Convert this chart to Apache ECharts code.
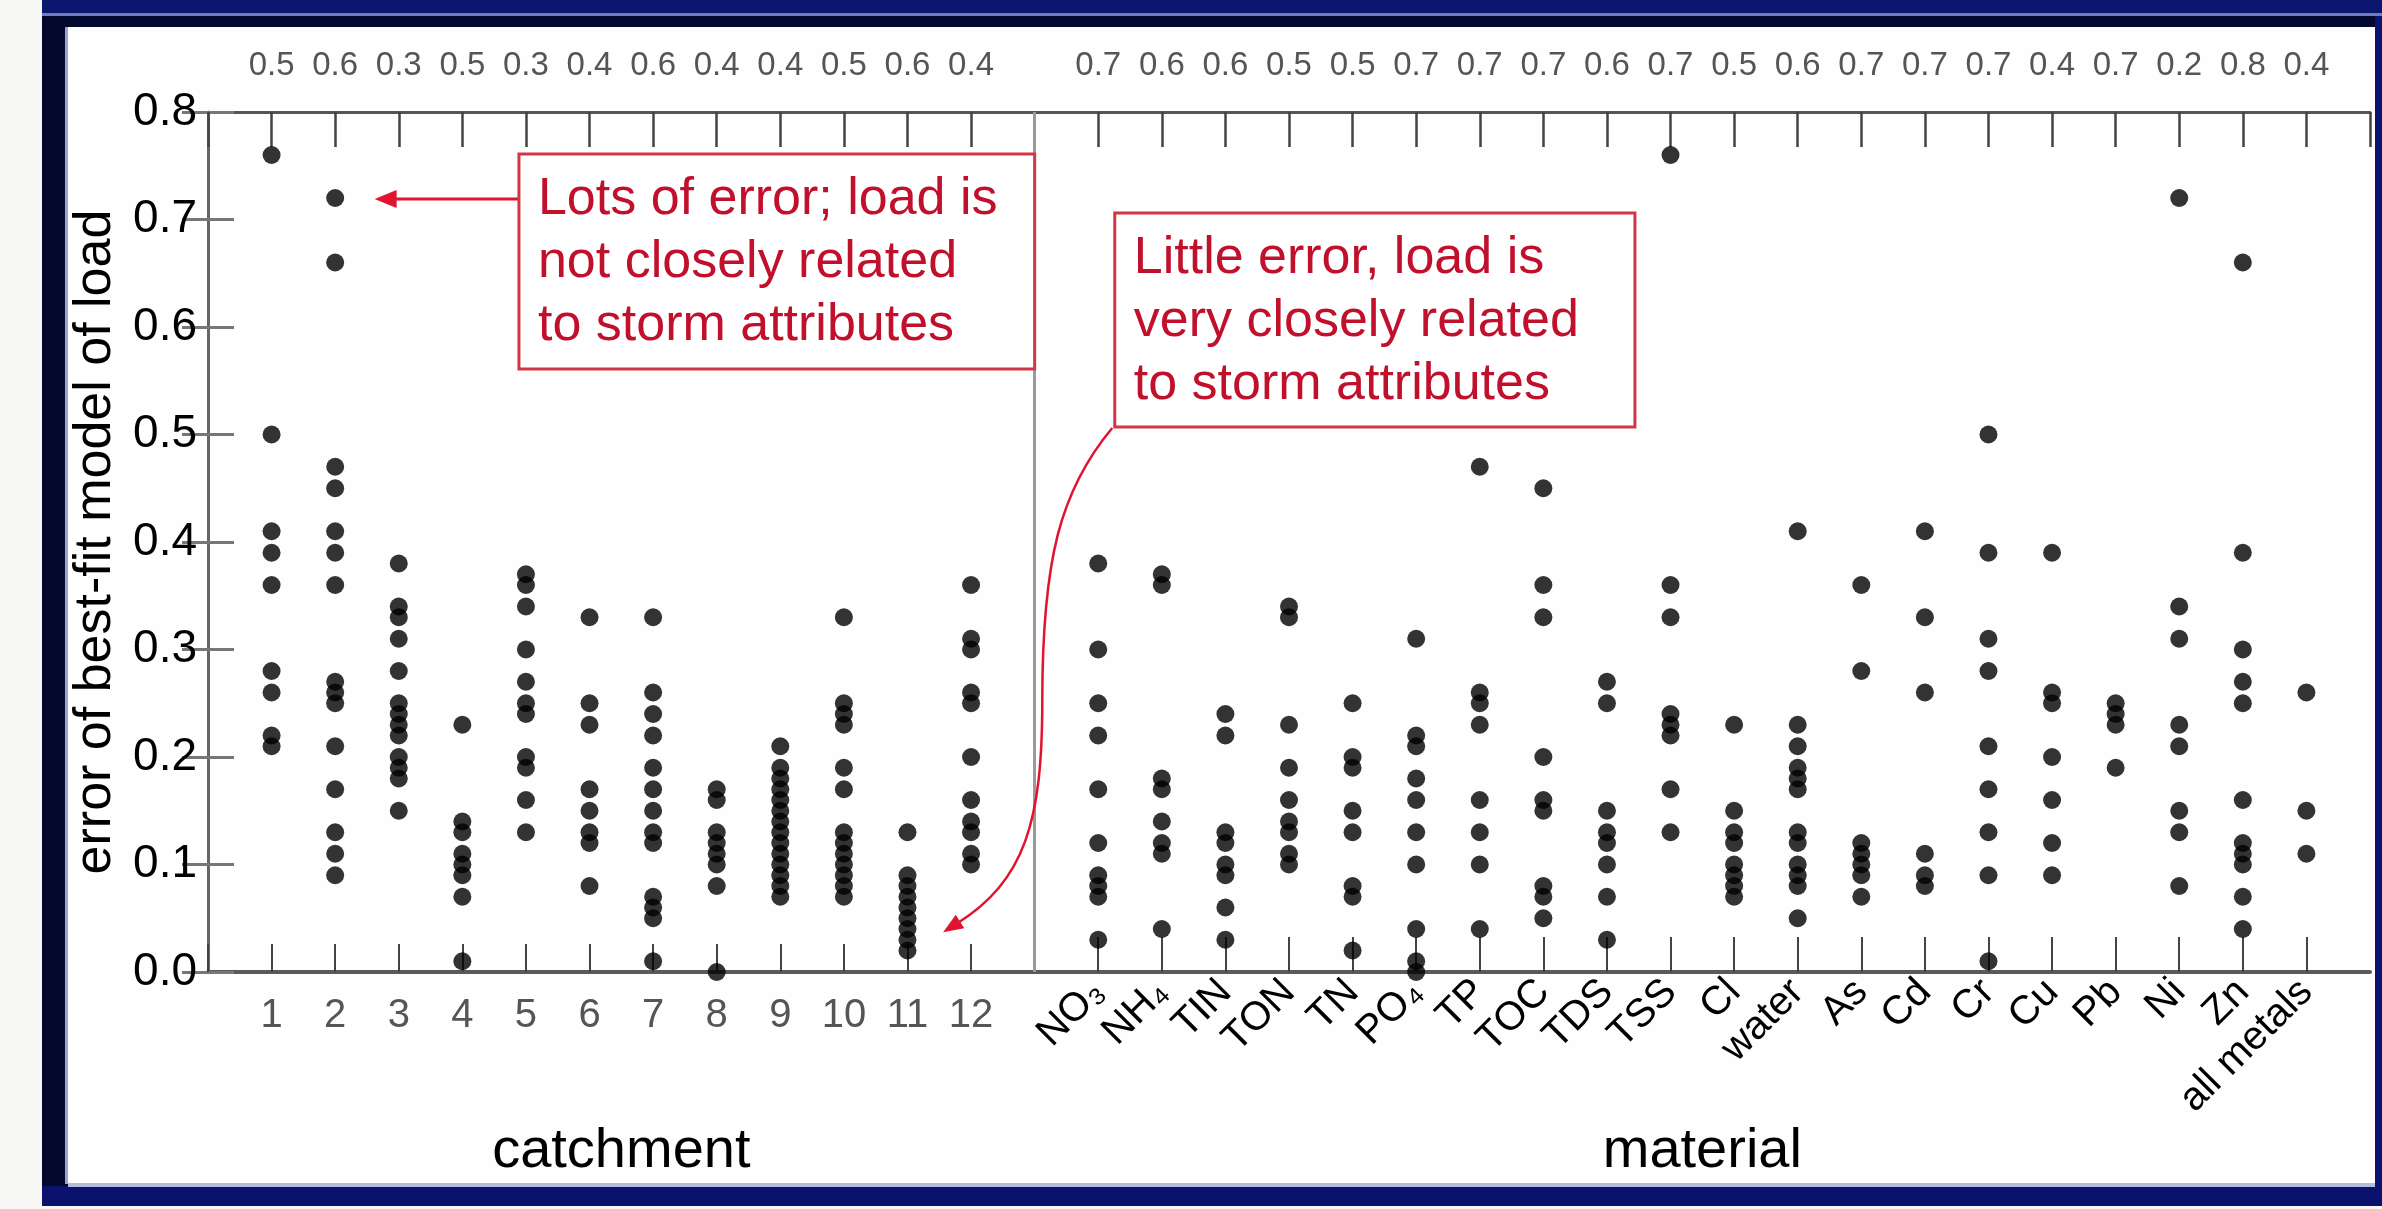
<!DOCTYPE html>
<html>
<head>
<meta charset="utf-8">
<script src="https://cdn.jsdelivr.net/npm/echarts@6/dist/echarts.min.js"></script>
<style>
  html, body { margin: 0; padding: 0; width: 2382px; height: 1209px; overflow: hidden; background: #f7f7f5; }
  .f { position: absolute; }
  #chart { position: absolute; left: 0; top: 0; width: 2382px; height: 1209px; }
</style>
</head>
<body>
<div class="f" style="left:42px;top:0;width:2340px;height:1206px;background:#03082e;"></div>
<div class="f" style="left:42px;top:0;width:2340px;height:13px;background:#0c1670;"></div>
<div class="f" style="left:42px;top:13px;width:2340px;height:3px;background:#6f7cbf;"></div>
<div class="f" style="left:42px;top:1186px;width:2340px;height:20px;background:#0a126e;"></div>
<div class="f" style="left:2375px;top:16px;width:7px;height:1190px;background:#0a126e;"></div>
<div class="f" style="left:65px;top:27px;width:3px;height:1157px;background:#9aa4cc;"></div>
<div class="f" style="left:68px;top:1183px;width:2307px;height:4px;background:#b4bcdc;"></div>
<div class="f" style="left:68px;top:27px;width:2307px;height:1156px;background:#fefefe;"></div>
<div id="chart"></div>
<script>
// ---------------- data ----------------
const catchments = ['1','2','3','4','5','6','7','8','9','10','11','12'];
const materials = ['NO\u2083','NH\u2084','TIN','TON','TN','PO\u2084','TP','TOC','TDS','TSS','Cl','water','As','Cd','Cr','Cu','Pb','Ni','Zn','all metals'];
const catchmentRates = [0.5,0.6,0.3,0.5,0.3,0.4,0.6,0.4,0.4,0.5,0.6,0.4];
const materialRates = [0.7,0.6,0.6,0.5,0.5,0.7,0.7,0.7,0.6,0.7,0.5,0.6,0.7,0.7,0.7,0.4,0.7,0.2,0.8,0.4];

const c1  = [0.76,0.50,0.41,0.39,0.36,0.28,0.26,0.22,0.21];
const c2  = [0.72,0.66,0.47,0.45,0.41,0.39,0.36,0.27,0.26,0.25,0.21,0.17,0.13,0.11,0.09];
const c3  = [0.38,0.34,0.33,0.31,0.28,0.25,0.24,0.23,0.22,0.20,0.19,0.18,0.15];
const c4  = [0.23,0.14,0.13,0.11,0.10,0.09,0.07,0.01];
const c5  = [0.37,0.36,0.34,0.30,0.27,0.25,0.24,0.20,0.19,0.16,0.13];
const c6  = [0.33,0.25,0.23,0.17,0.15,0.13,0.12,0.08];
const c7  = [0.33,0.26,0.24,0.22,0.19,0.17,0.15,0.13,0.12,0.07,0.06,0.05,0.01];
const c8  = [0.17,0.16,0.13,0.12,0.11,0.10,0.08,0.00];
const c9  = [0.21,0.19,0.18,0.17,0.16,0.15,0.14,0.13,0.12,0.11,0.10,0.09,0.08,0.07];
const c10 = [0.33,0.25,0.24,0.23,0.19,0.17,0.13,0.12,0.11,0.10,0.09,0.08,0.07];
const c11 = [0.13,0.09,0.08,0.07,0.06,0.05,0.04,0.03,0.02];
const c12 = [0.36,0.31,0.30,0.26,0.25,0.20,0.16,0.14,0.13,0.11,0.10];
const catchmentErrors = [c1,c2,c3,c4,c5,c6,c7,c8,c9,c10,c11,c12];

const mNO3   = [0.38,0.30,0.25,0.22,0.17,0.12,0.09,0.08,0.07,0.03];
const mNH4   = [0.37,0.36,0.18,0.17,0.14,0.12,0.11,0.04];
const mTIN   = [0.24,0.22,0.13,0.12,0.10,0.09,0.06,0.03];
const mTON   = [0.34,0.33,0.23,0.19,0.16,0.14,0.13,0.11,0.10];
const mTN    = [0.25,0.20,0.19,0.15,0.13,0.08,0.07,0.02];
const mPO4   = [0.31,0.22,0.21,0.18,0.16,0.13,0.10,0.04,0.01,0.00];
const mTP    = [0.47,0.26,0.25,0.23,0.16,0.13,0.10,0.04];
const mTOC   = [0.45,0.36,0.33,0.20,0.16,0.15,0.08,0.07,0.05];
const mTDS   = [0.27,0.25,0.15,0.13,0.12,0.10,0.07,0.03];
const mTSS   = [0.76,0.36,0.33,0.24,0.23,0.22,0.17,0.13];
const mCl    = [0.23,0.15,0.13,0.12,0.10,0.09,0.08,0.07];
const mWater = [0.41,0.23,0.21,0.19,0.18,0.17,0.13,0.12,0.10,0.09,0.08,0.05];
const mAs    = [0.36,0.28,0.12,0.11,0.10,0.09,0.07];
const mCd    = [0.41,0.33,0.26,0.11,0.09,0.08];
const mCr    = [0.50,0.39,0.31,0.28,0.21,0.17,0.13,0.09,0.01];
const mCu    = [0.39,0.26,0.25,0.20,0.16,0.12,0.09];
const mPb    = [0.25,0.24,0.23,0.19];
const mNi    = [0.72,0.34,0.31,0.23,0.21,0.15,0.13,0.08];
const mZn    = [0.66,0.39,0.30,0.27,0.25,0.16,0.12,0.11,0.10,0.07,0.04];
const mAll   = [0.26,0.15,0.11];
const materialErrors = [mNO3,mNH4,mTIN,mTON,mTN,mPO4,mTP,mTOC,mTDS,mTSS,mCl,mWater,mAs,mCd,mCr,mCu,mPb,mNi,mZn,mAll];

const annotations = [
  { lines: ['Lots of error; load is', 'not closely related', 'to storm attributes'] },
  { lines: ['Little error, load is', 'very closely related', 'to storm attributes'] }
];

// ---------------- layout helpers ----------------
const nC = catchments.length;           // 12
const sep = nC + 1;                     // 13 (separator slot)
const mStart = sep + 1;                 // 14
const xMax = mStart + materials.length; // 34
const FONT = '"Liberation Sans", Arial, Helvetica, sans-serif';

const range = (a, b) => Array.from({ length: b - a + 1 }, (_, i) => a + i);

const catchPts = [];
catchmentErrors.forEach((arr, i) => arr.forEach(v => catchPts.push([i + 1, v])));
const matPts = [];
materialErrors.forEach((arr, i) => arr.forEach(v => matPts.push([mStart + i, v])));

const chart = echarts.init(document.getElementById('chart'), null, { renderer: 'canvas' });

const baseX = { type: 'value', min: 0, max: xMax, interval: 1, splitLine: { show: false } };

chart.setOption({
  animation: false,
  backgroundColor: 'transparent',
  grid: { left: 208, right: 12, top: 112, bottom: 237, containLabel: false },
  xAxis: [
    Object.assign({}, baseX, {
      position: 'bottom',
      axisLine: { show: true, lineStyle: { color: '#5a5a5a', width: 4 } },
      axisTick: { show: true, inside: true, length: 28, customValues: range(0, sep), lineStyle: { color: '#444', width: 2 } },
      axisLabel: {
        margin: 24, fontSize: 40, color: '#555', fontFamily: FONT,
        formatter: v => (v >= 1 && v <= nC) ? catchments[v - 1] : ''
      }
    }),
    Object.assign({}, baseX, {
      position: 'bottom',
      axisLine: { show: false },
      axisTick: { show: true, inside: true, length: 35, customValues: range(mStart, xMax - 1), lineStyle: { color: '#444', width: 2 } },
      axisLabel: {
        margin: 14, rotate: 45, fontSize: 40, color: '#000', fontFamily: FONT,
        formatter: v => (v >= mStart && v < xMax) ? materials[v - mStart] : ''
      }
    }),
    Object.assign({}, baseX, {
      position: 'top',
      axisLine: { show: true, lineStyle: { color: '#555', width: 3 } },
      axisTick: { show: true, inside: true, length: 35, lineStyle: { color: '#444', width: 2.5 } },
      axisLabel: {
        margin: 30, fontSize: 33, color: '#555', fontFamily: FONT,
        formatter: v => {
          if (v >= 1 && v <= nC) return catchmentRates[v - 1].toFixed(1);
          if (v >= mStart && v < xMax) return materialRates[v - mStart].toFixed(1);
          return '';
        }
      }
    })
  ],
  yAxis: [
    {
      type: 'value', min: 0, max: 0.8, interval: 0.1, position: 'left',
      splitLine: { show: false },
      axisLine: { show: true, lineStyle: { color: '#555', width: 2 } },
      axisTick: { show: true, inside: true, length: 26, lineStyle: { color: '#777', width: 3 } },
      axisLabel: { margin: 11, fontSize: 46, color: '#000', fontFamily: FONT, formatter: v => v.toFixed(1) },
      name: 'error of best-fit model of load', nameLocation: 'middle', nameGap: 84,
      nameTextStyle: { fontSize: 52, color: '#000', fontFamily: FONT }
    },
    {
      type: 'value', min: 0, max: 0.8, interval: 0.1, position: 'right',
      splitLine: { show: false },
      axisLine: { show: true, lineStyle: { color: '#666', width: 3 } },
      axisTick: { show: true, inside: true, length: 26, lineStyle: { color: '#777', width: 3 } },
      axisLabel: { show: false }
    }
  ],
  series: [
    {
      type: 'scatter', name: 'catchment', xAxisIndex: 0, yAxisIndex: 0,
      data: catchPts, symbol: 'circle', symbolSize: 18, itemStyle: { color: '#000' },
      clip: false,
      markLine: {
        silent: true, symbol: 'none', label: { show: false },
        lineStyle: { color: '#9a9a9a', width: 3, type: 'solid' },
        data: [{ xAxis: sep }]
      }
    },
    {
      type: 'scatter', name: 'material', xAxisIndex: 0, yAxisIndex: 0,
      data: matPts, symbol: 'circle', symbolSize: 18, itemStyle: { color: '#000' },
      clip: false
    }
  ]
});

// ---------------- annotations (placed from data coordinates) ----------------
const P = p => chart.convertToPixel({ seriesIndex: 0 }, p);
const RED = '#e0142e';
const TXT = '#c0102c';
const BOX = '#d23646';

function arrowHead(tip, from, len, half) {
  const dx = tip[0] - from[0], dy = tip[1] - from[1];
  const d = Math.hypot(dx, dy), ux = dx / d, uy = dy / d;
  const bx = tip[0] - ux * len, by = tip[1] - uy * len;
  return [tip, [bx - uy * half, by + ux * half], [bx + uy * half, by - ux * half]];
}

const boxes = [
  { tl: P([4.89, 0.761]), br: P([13.0, 0.561]) },
  { tl: P([14.26, 0.706]), br: P([22.44, 0.507]) }
];
const graphics = [];
boxes.forEach((b, i) => {
  graphics.push({
    type: 'rect', z: 50,
    shape: { x: b.tl[0], y: b.tl[1], width: b.br[0] - b.tl[0], height: b.br[1] - b.tl[1] },
    style: { fill: '#fff', stroke: BOX, lineWidth: 3 }
  });
  graphics.push({
    type: 'text', z: 51,
    style: {
      x: b.tl[0] + 19, y: b.tl[1] + 14, text: annotations[i].lines.join('\n'),
      fill: TXT, fontSize: 52, fontFamily: FONT, lineHeight: 63,
      align: 'left', verticalAlign: 'top'
    }
  });
});

// straight arrow (box 1 -> high-error point)
const a1s = P([4.89, 0.719]), a1t = P([2.62, 0.719]);
const a1h = arrowHead(a1t, a1s, 22, 9);
graphics.push({ type: 'line', z: 49, shape: { x1: a1s[0], y1: a1s[1], x2: a1t[0] + 18, y2: a1t[1] }, style: { stroke: RED, lineWidth: 3 } });
graphics.push({ type: 'polygon', z: 49, shape: { points: a1h }, style: { fill: RED } });

// curved arrow (box 2 -> low-error points)
const q0 = P([14.22, 0.506]), q1 = P([13.40, 0.448]), q2 = P([13.12, 0.383]), q3 = P([13.12, 0.252]);
const q4 = P([13.12, 0.140]), q5 = P([12.85, 0.085]), q6 = P([11.56, 0.037]);
graphics.push({ type: 'bezierCurve', z: 49, shape: { x1: q0[0], y1: q0[1], cpx1: q1[0], cpy1: q1[1], cpx2: q2[0], cpy2: q2[1], x2: q3[0], y2: q3[1] }, style: { stroke: RED, lineWidth: 2.5, fill: null } });
const head2 = arrowHead(q6, q5, 20, 8);
const d2x = q6[0] - q5[0], d2y = q6[1] - q5[1], d2 = Math.hypot(d2x, d2y);
const q6b = [q6[0] - d2x / d2 * 16, q6[1] - d2y / d2 * 16];
graphics.push({ type: 'bezierCurve', z: 49, shape: { x1: q3[0], y1: q3[1], cpx1: q4[0], cpy1: q4[1], cpx2: q5[0], cpy2: q5[1], x2: q6b[0], y2: q6b[1] }, style: { stroke: RED, lineWidth: 2.5, fill: null } });
graphics.push({ type: 'polygon', z: 49, shape: { points: head2 }, style: { fill: RED } });

// group titles under the axis
const g1 = P([(1 + nC) / 2, 0]), g2 = P([(mStart + xMax - 1) / 2, 0]);
[[g1, 'catchment'], [g2, 'material']].forEach(([p, t]) => {
  graphics.push({
    type: 'text', z: 40,
    style: { x: p[0], y: 1152, text: t, fill: '#000', fontSize: 56, fontFamily: FONT, align: 'center', verticalAlign: 'middle' }
  });
});

chart.setOption({ graphic: graphics });
</script>
</body>
</html>
